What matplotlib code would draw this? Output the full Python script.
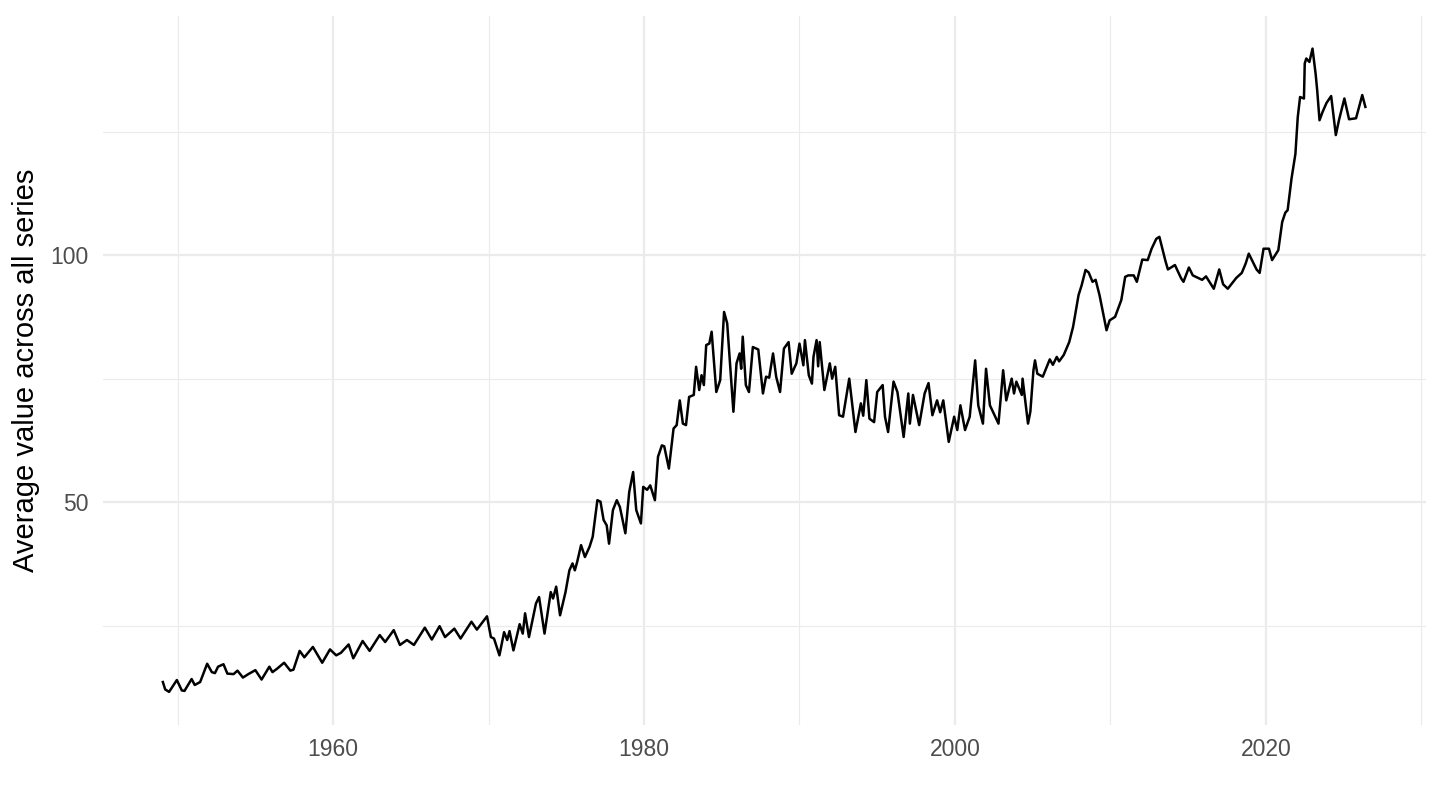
import matplotlib
matplotlib.use("Agg")
import matplotlib.pyplot as plt
from matplotlib.ticker import MultipleLocator

# values (decimal year, average value)
years = [
    1949.05, 1949.2, 1949.45, 1949.95, 1950.27, 1950.44, 1950.9, 1951.1, 1951.45, 1951.9,
    1952.2, 1952.4, 1952.6, 1952.95, 1953.2, 1953.6, 1953.85, 1954.2, 1954.55, 1955.0,
    1955.4, 1955.9, 1956.1, 1956.4, 1956.85, 1957.25, 1957.45, 1957.85, 1958.15, 1958.7,
    1959.3, 1959.8, 1960.2, 1960.5, 1961.0, 1961.3, 1961.9, 1962.35, 1963.0, 1963.35,
    1963.9, 1964.3, 1964.75, 1965.2, 1965.9, 1966.35, 1966.85, 1967.2, 1967.8, 1968.2,
    1968.9, 1969.25, 1969.9, 1970.15, 1970.35, 1970.7, 1971.0, 1971.2, 1971.35, 1971.6,
    1972.0, 1972.2, 1972.35, 1972.6, 1973.05, 1973.25, 1973.6, 1974.0, 1974.15, 1974.35,
    1974.6, 1974.95, 1975.2, 1975.4, 1975.55, 1975.7, 1975.95, 1976.2, 1976.5, 1976.7,
    1977.0, 1977.2, 1977.4, 1977.6, 1977.75, 1978.0, 1978.25, 1978.45, 1978.8, 1979.05,
    1979.3, 1979.5, 1979.8, 1979.95, 1980.2, 1980.4, 1980.7, 1980.9, 1981.15, 1981.3,
    1981.6, 1981.9, 1982.1, 1982.3, 1982.5, 1982.7, 1982.9, 1983.2, 1983.35, 1983.55,
    1983.7, 1983.85, 1984.0, 1984.2, 1984.35, 1984.65, 1984.9, 1985.15, 1985.35, 1985.75,
    1985.95, 1986.15, 1986.25, 1986.35, 1986.55, 1986.75, 1987.0, 1987.35, 1987.65, 1987.85,
    1988.05, 1988.3, 1988.5, 1988.75, 1989.0, 1989.3, 1989.5, 1989.8, 1990.0, 1990.25,
    1990.35, 1990.6, 1990.8, 1990.9, 1991.1, 1991.2, 1991.3, 1991.6, 1991.95, 1992.1,
    1992.3, 1992.55, 1992.8, 1993.2, 1993.6, 1993.95, 1994.1, 1994.3, 1994.5, 1994.8,
    1995.0, 1995.35, 1995.5, 1995.7, 1996.05, 1996.3, 1996.7, 1997.0, 1997.1, 1997.3,
    1997.7, 1998.05, 1998.3, 1998.55, 1998.85, 1999.05, 1999.25, 1999.6, 1999.95, 2000.15,
    2000.35, 2000.65, 2000.95, 2001.3, 2001.5, 2001.8, 2002.0, 2002.25, 2002.8, 2003.1,
    2003.3, 2003.65, 2003.8, 2003.95, 2004.3, 2004.35, 2004.7, 2004.85, 2005.05, 2005.15,
    2005.3, 2005.65, 2006.1, 2006.3, 2006.55, 2006.7, 2007.0, 2007.35, 2007.6, 2007.95,
    2008.15, 2008.4, 2008.6, 2008.85, 2009.05, 2009.3, 2009.55, 2009.75, 2009.95, 2010.3,
    2010.7, 2010.95, 2011.15, 2011.5, 2011.7, 2012.05, 2012.4, 2012.65, 2012.95, 2013.15,
    2013.55, 2013.7, 2014.15, 2014.55, 2014.7, 2015.05, 2015.3, 2015.9, 2016.15, 2016.65,
    2017.0, 2017.25, 2017.55, 2018.1, 2018.45, 2018.7, 2018.9, 2019.4, 2019.6, 2019.85,
    2020.2, 2020.4, 2020.8, 2021.05, 2021.25, 2021.4, 2021.65, 2021.9, 2022.05, 2022.2,
    2022.45, 2022.5, 2022.6, 2022.8, 2023.0, 2023.2, 2023.3, 2023.45, 2023.65, 2023.9,
    2024.2, 2024.5, 2024.7, 2025.05, 2025.35, 2025.8, 2026.2, 2026.4,
]
avg_value = [
    13.6, 12.1, 11.6, 14.0, 11.9, 11.8, 14.2, 13.0, 13.6, 17.3,
    15.6, 15.4, 16.7, 17.2, 15.3, 15.2, 15.9, 14.5, 15.2, 16.0,
    14.1, 16.7, 15.6, 16.3, 17.5, 15.9, 16.1, 19.9, 18.6, 20.7,
    17.5, 20.2, 19.0, 19.5, 21.2, 18.4, 21.9, 19.9, 23.1, 21.7,
    24.1, 21.1, 22.1, 21.1, 24.6, 22.2, 24.9, 22.7, 24.4, 22.4,
    25.8, 24.2, 26.9, 22.7, 22.4, 19.0, 23.7, 22.1, 23.9, 20.0,
    25.3, 23.4, 27.5, 22.7, 29.5, 30.8, 23.4, 31.8, 30.5, 32.9,
    27.1, 31.8, 36.2, 37.6, 36.2, 37.9, 41.3, 38.9, 41.0, 43.0,
    50.4, 50.1, 46.4, 45.3, 41.6, 48.4, 50.4, 49.0, 43.7, 52.1,
    56.1, 48.4, 45.7, 53.1, 52.5, 53.4, 50.4, 59.2, 61.5, 61.3,
    56.8, 64.9, 65.6, 70.6, 65.9, 65.6, 71.3, 71.7, 77.4, 72.7,
    75.7, 73.7, 81.8, 82.1, 84.5, 72.3, 74.7, 88.5, 86.2, 68.3,
    78.1, 80.1, 77.0, 83.5, 73.7, 72.3, 81.4, 80.9, 72.0, 75.4,
    75.2, 80.1, 75.4, 72.3, 81.1, 82.4, 76.0, 78.1, 82.1, 77.7,
    82.8, 75.7, 74.0, 79.4, 82.8, 77.5, 82.4, 72.7, 78.1, 75.0,
    77.4, 67.6, 67.3, 75.0, 64.2, 70.0, 67.5, 74.7, 66.9, 66.2,
    72.3, 73.7, 67.3, 64.2, 74.4, 72.3, 63.2, 72.0, 65.9, 71.7,
    65.6, 72.0, 74.1, 67.6, 70.6, 68.2, 70.6, 62.2, 67.3, 64.6,
    69.6, 64.6, 67.3, 78.7, 69.6, 65.9, 77.0, 69.6, 65.9, 76.7,
    70.6, 75.0, 72.0, 74.4, 71.7, 75.0, 65.9, 68.3, 76.7, 78.7,
    76.0, 75.4, 78.9, 77.8, 79.4, 78.5, 79.8, 82.4, 85.5, 91.9,
    93.9, 97.0, 96.5, 94.6, 95.0, 91.9, 87.9, 84.8, 86.8, 87.5,
    90.9, 95.6, 95.9, 95.9, 94.6, 99.1, 99.0, 101.3, 103.3, 103.7,
    98.7, 97.1, 98.0, 95.3, 94.6, 97.5, 95.9, 95.0, 95.7, 93.2,
    97.1, 94.1, 93.2, 95.4, 96.4, 98.3, 100.3, 97.1, 96.4, 101.3,
    101.3, 99.0, 101.0, 106.7, 108.6, 109.1, 115.5, 120.5, 127.9, 132.0,
    131.7, 138.8, 139.8, 139.1, 141.8, 136.7, 133.4, 127.3, 129.0, 130.8,
    132.2, 124.3, 127.3, 131.7, 127.5, 127.7, 132.4, 130.0,
]

x_breaks = [1960, 1980, 2000, 2020]
y_breaks = [50, 100]

plt.rcParams['font.family'] = ['Liberation Sans', 'DejaVu Sans']

fig = plt.figure(figsize=(14.4, 8.1), dpi=100)
# panel spans roughly x 103..1426, y 16..725 px
ax = fig.add_axes([103 / 1440, 1 - 725 / 810, 1323 / 1440, 709 / 810])

ax.plot(years, avg_value, color="black", linewidth=1.8, zorder=3)

ax.set_xlim(1945.2, 2030.3)
ax.set_ylim(4.9, 148.4)

ax.set_xticks(x_breaks)
ax.set_xticklabels([str(b) for b in x_breaks])
ax.set_yticks(y_breaks)
ax.set_yticklabels([str(b) for b in y_breaks])
ax.xaxis.set_minor_locator(MultipleLocator(10))
ax.yaxis.set_minor_locator(MultipleLocator(25))

# theme_minimal look
ax.grid(which="major", color="#EBEBEB", linewidth=1.6)
ax.grid(which="minor", color="#EBEBEB", linewidth=0.8)
ax.set_axisbelow(True)
for s in ax.spines.values():
    s.set_visible(False)
ax.tick_params(which="both", length=0, labelsize=16.5, labelcolor="#4D4D4D")
ax.tick_params(axis="x", pad=9)
ax.tick_params(axis="y", pad=10.5)

fig.text(26 / 1440, 1 - 370 / 810, "Average value across all series",
         rotation=90, ha="center", va="center", fontsize=21, color="black")

fig.savefig("out.png", dpi=100)
